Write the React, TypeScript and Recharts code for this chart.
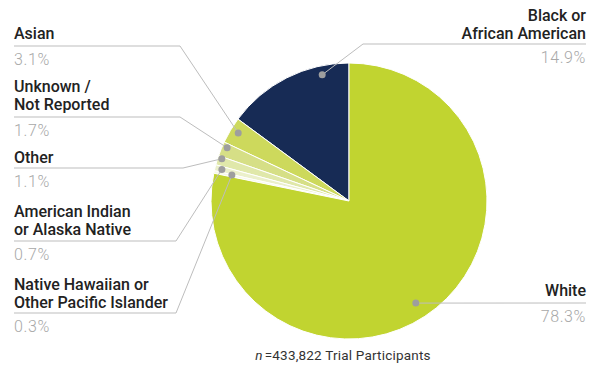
import { PieChart, Pie, Cell } from "recharts";

const categories = [
  "Black or African American",
  "Asian",
  "Unknown / Not Reported",
  "Other",
  "American Indian or Alaska Native",
  "Native Hawaiian or Other Pacific Islander",
  "White",
];
const shares = [14.9, 3.1, 1.7, 1.1, 0.7, 0.3, 78.3];
const labelLines = [
  ["Black or", "African American"],
  ["Asian"],
  ["Unknown /", "Not Reported"],
  ["Other"],
  ["American Indian", "or Alaska Native"],
  ["Native Hawaiian or", "Other Pacific Islander"],
  ["White"],
];
const colors = ["#172b55", "#cdd95c", "#d6df86", "#e0e8aa", "#ebf0cb", "#f6f8e8", "#c1d430"];

// label layout (annotation placement only)
const layout = [
  { side: "right", top: 21, lineY: 44, elbow: 363, dA: -14.8, r: 129 },
  { side: "left", top: 39, lineY: 46, elbow: 180, dA: -0.7, r: 130 },
  { side: "left", top: 92, lineY: 117, elbow: 180, dA: -1.4, r: 133 },
  { side: "left", top: 163, lineY: 168, elbow: 183, dA: -1.2, r: 134 },
  { side: "left", top: 217, lineY: 241, elbow: 176, dA: 0, r: 131 },
  { side: "left", top: 290, lineY: 313, elbow: 176, dA: -0.4, r: 120 },
  { side: "right", top: 296, lineY: 303, elbow: 0, dA: -6, r: 122 },
];

const data = categories.map((name, i) => ({ name, value: shares[i] }));

const FONT = "Roboto, 'Noto Sans', sans-serif";
const RAD = Math.PI / 180;

function renderLabel(props: any) {
  const { cx, cy, midAngle, index } = props;
  const L = layout[index];
  const a = midAngle + L.dA;
  const dx = cx + Math.cos(-a * RAD) * L.r;
  const dy = cy + Math.sin(-a * RAD) * L.r;
  const left = L.side === "left";
  const tx = left ? 14 : 586;
  const anchor = left ? "start" : "end";
  const lines = labelLines[index];
  let pts: string;
  if (L.elbow) {
    pts = `${tx},${L.lineY} ${L.elbow},${L.lineY} ${dx},${dy}`;
  } else {
    pts = `${tx},${L.lineY} ${dx},${dy}`;
  }
  return (
    <g key={`lab-${index}`}>
      <polyline points={pts} fill="none" stroke="#bdbdbd" strokeWidth={1} />
      <circle cx={dx} cy={dy} r={3.5} fill="#9e9e9e" />
      {lines.map((t, j) => (
        <text
          key={j}
          x={tx}
          y={L.top + j * 18}
          textAnchor={anchor}
          fontFamily={FONT}
          fontSize={16}
          fontWeight={500}
          fill="#222"
        >
          {t}
        </text>
      ))}
      <text
        x={tx}
        y={L.lineY + 19}
        textAnchor={anchor}
        fontFamily={FONT}
        fontSize={16}
        fontWeight={300}
        fill="#a8a8a8"
        letterSpacing={0.6}
      >
        {shares[index].toFixed(1)}%
      </text>
    </g>
  );
}

export default function App() {
  return (
    <div style={{ position: "absolute", left: 0, top: 0, width: 602, height: 377, background: "#fff" }}>
      <PieChart width={602} height={377} margin={{ top: 0, right: 0, bottom: 0, left: 0 }}>
        <Pie
          data={data}
          dataKey="value"
          nameKey="name"
          cx={349}
          cy={201}
          outerRadius={138}
          startAngle={90}
          endAngle={450}
          stroke="#fff"
          strokeWidth={1}
          label={renderLabel}
          labelLine={false}
          isAnimationActive={false}
        >
          {data.map((d, i) => (
            <Cell key={d.name} fill={colors[i]} />
          ))}
        </Pie>
        <text x={343} y={360} textAnchor="middle" fontFamily={FONT} fontSize={13.5} fill="#333" letterSpacing={0.2}>
          <tspan fontStyle="italic">n</tspan>
          <tspan dx={2}>=433,822 Trial Participants</tspan>
        </text>
      </PieChart>
    </div>
  );
}
